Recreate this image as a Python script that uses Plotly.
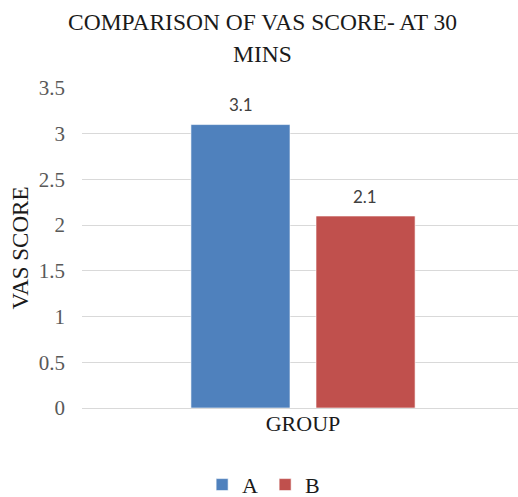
import plotly.graph_objects as go

categories = ["GROUP"]
series_names = ["A", "B"]
values_a = [3.1]
values_b = [2.1]
colors = ["#4F81BD", "#C0504D"]
y_ticks = [0, 0.5, 1, 1.5, 2, 2.5, 3, 3.5]
y_tick_labels = ["0", "0.5", "1", "1.5", "2", "2.5", "3", "3.5"]
title_lines = ["COMPARISON OF VAS SCORE- AT 30", "MINS"]

serif = "Liberation Serif, Times New Roman, serif"
PLOT_TOP, PLOT_H = 88, 320

fig = go.Figure()
for name, vals, col in zip(series_names, [values_a, values_b], colors):
    fig.add_trace(go.Bar(
        x=categories, y=vals, name=name,
        marker=dict(color=col, line=dict(color="rgba(255,255,255,0.6)", width=1)),
    ))

# data labels (positioned from data through axes)
for vals, xs in zip([values_a, values_b], [-62, 62]):
    for c, v in zip(categories, vals):
        fig.add_annotation(x=c, y=v, xref="x", yref="y", text=str(v), showarrow=False,
                           xshift=xs, yshift=20, yanchor="middle",
                           font=dict(family="Lato, Arial, sans-serif", size=17, color="#404040"))

# title lines
for txt, ypx in zip(title_lines, [22, 54]):
    fig.add_annotation(x=0.413, y=1 + (PLOT_TOP - ypx) / PLOT_H, xref="paper", yref="paper",
                       text=txt, showarrow=False, xanchor="center", yanchor="middle",
                       font=dict(family=serif, size=23.5, color="#1a1a1a"))

fig.update_layout(
    width=518, height=497,
    margin=dict(l=82, r=0, t=PLOT_TOP, b=497 - PLOT_TOP - PLOT_H, autoexpand=False),
    paper_bgcolor="white", plot_bgcolor="white",
    barmode="group", bargap=0.434, bargroupgap=0.208,
    xaxis=dict(range=[-0.5, 0.4864], showgrid=False, showline=False, ticks="", automargin=False,
               tickfont=dict(family=serif, size=22, color="#1a1a1a"), ticklabelstandoff=0),
    yaxis=dict(range=[0, 3.5], tickvals=y_ticks, ticktext=y_tick_labels, automargin=False,
               showgrid=True, gridcolor="#D9D9D9", gridwidth=1,
               zeroline=True, zerolinecolor="#D9D9D9", zerolinewidth=1,
               showline=False, ticks="", ticklabelstandoff=16,
               tickfont=dict(family=serif, size=21, color="#595959"),
               title=dict(text="VAS SCORE", standoff=3,
                          font=dict(family=serif, size=23, color="#1a1a1a"))),
    legend=dict(orientation="h", x=0.42, xanchor="center", y=-0.24, yanchor="middle",
                font=dict(family=serif, size=22, color="#1a1a1a"),
                entrywidth=18, tracegroupgap=0),
    showlegend=True,
)

fig.write_html("out.html", config={"displayModeBar": False},
               post_script="document.body.style.margin='0';document.body.style.overflow='hidden';")
